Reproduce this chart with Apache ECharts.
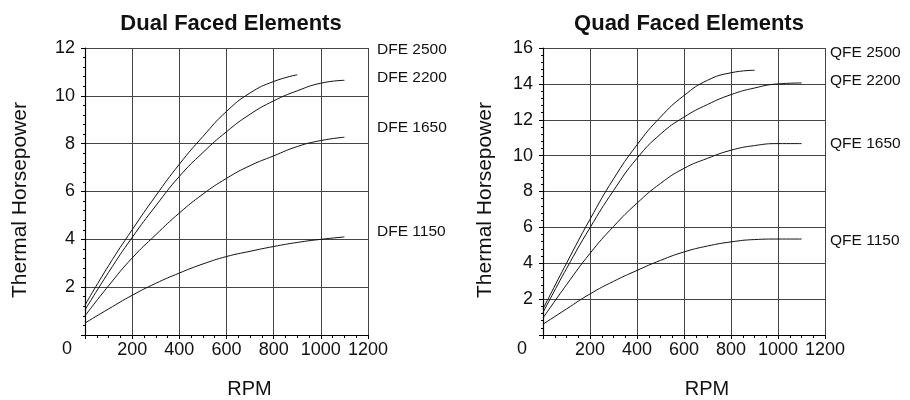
<!DOCTYPE html>
<html>
<head>
<meta charset="utf-8">
<script src="https://cdn.jsdelivr.net/npm/echarts@6/dist/echarts.min.js"></script>
<style>
html,body{margin:0;padding:0;background:#fff;}
#chart{width:910px;height:400px;}
</style>
</head>
<body>
<div id="chart"></div>
<script>
// ---- data ----
const rpm = [0, 100, 200, 300, 400, 500, 600, 700, 800, 900, 1000, 1100];
const xTicks = [0, 200, 400, 600, 800, 1000, 1200];

const dfeNames = ['DFE 2500', 'DFE 2200', 'DFE 1650', 'DFE 1150'];
const dfe2500 = [1.25, 2.9, 4.4, 5.82, 7.14, 8.3, 9.35, 10.12, 10.6, 10.88];
const dfe2200 = [1.05, 2.62, 4.08, 5.4, 6.63, 7.63, 8.5, 9.23, 9.79, 10.21, 10.53, 10.65];
const dfe1650 = [0.8, 2.06, 3.22, 4.19, 5.1, 5.89, 6.55, 7.08, 7.49, 7.88, 8.13, 8.27];
const dfe1150 = [0.5, 1.09, 1.66, 2.16, 2.59, 2.97, 3.28, 3.5, 3.7, 3.87, 4.0, 4.1];

const qfeNames = ['QFE 2500', 'QFE 2200', 'QFE 1650', 'QFE 1150'];
const qfe2500 = [1.45, 4.0, 6.45, 8.7, 10.6, 12.15, 13.35, 14.2, 14.62, 14.76];
const qfe2200 = [1.25, 3.7, 5.98, 8.05, 9.85, 11.2, 12.15, 12.85, 13.4, 13.77, 14.0, 14.05];
const qfe1650 = [0.95, 2.8, 4.55, 6.05, 7.35, 8.45, 9.29, 9.85, 10.3, 10.56, 10.67, 10.67];
const qfe1150 = [0.6, 1.45, 2.29, 2.99, 3.6, 4.16, 4.63, 4.96, 5.19, 5.32, 5.35, 5.35];

const dfeTicks = [0, 2, 4, 6, 8, 10, 12];
const qfeTicks = [0, 2, 4, 6, 8, 10, 12, 14, 16];

const titles = ['Dual Faced Elements', 'Quad Faced Elements'];
const yName = 'Thermal Horsepower';
const xName = 'RPM';

// ---- chart ----
const FONT = "'Liberation Sans', Arial, Helvetica, sans-serif";
const INK = '#111';
const chart = echarts.init(document.getElementById('chart'), null, {renderer: 'canvas'});

function pairs(vals) { return vals.map((v, i) => [rpm[i], v]); }

function xAxisCfg(gi) {
  return {
    gridIndex: gi, type: 'value',
    min: xTicks[0], max: xTicks[xTicks.length - 1], interval: xTicks[1] - xTicks[0],
    name: xName, nameLocation: 'middle', nameGap: 44,
    nameTextStyle: {fontFamily: FONT, fontSize: 20, color: INK, padding: [0, 0, 0, 46]},
    axisLine: {show: true, onZero: false, lineStyle: {color: '#000', width: 1.2}},
    axisTick: {show: true, inside: false, length: 4, lineStyle: {color: '#000'}},
    minorTick: {show: true, splitNumber: 4, length: 3, lineStyle: {color: '#000'}},
    axisLabel: {showMinLabel: false, margin: 6, fontFamily: FONT, fontSize: 18, color: INK,
      formatter: v => String(v)},
    splitLine: {show: true, lineStyle: {color: '#444', width: 1}}
  };
}
function yAxisCfg(gi, ticks, gap) {
  return {
    gridIndex: gi, type: 'value',
    min: ticks[0], max: ticks[ticks.length - 1], interval: ticks[1] - ticks[0],
    name: yName, nameLocation: 'middle', nameGap: gap, nameRotate: 90,
    nameTextStyle: {fontFamily: FONT, fontSize: 21, color: INK, padding: [0, 17, 0, 0]},
    axisLine: {show: true, onZero: false, lineStyle: {color: '#000', width: 1.2}},
    axisTick: {show: true, inside: false, length: 4, lineStyle: {color: '#000'}},
    minorTick: {show: true, splitNumber: 5, length: 2, lineStyle: {color: '#000'}},
    axisLabel: {showMinLabel: false, margin: 10, fontFamily: FONT, fontSize: 18, color: INK,
      formatter: v => String(v)},
    splitLine: {show: true, lineStyle: {color: '#444', width: 1}}
  };
}
function line(name, vals, xi) {
  return {
    name: name, type: 'line', xAxisIndex: xi, yAxisIndex: xi,
    data: pairs(vals), showSymbol: false, smooth: 0.5,
    lineStyle: {color: '#111', width: 1}, silent: true, animation: false
  };
}
function label(text, x, y) {
  return {type: 'text', x: x, y: y, silent: true,
    style: {text: text, font: '15.5px ' + FONT, fill: INK, align: 'left', verticalAlign: 'middle'}};
}
function zero(x, y) {
  return {type: 'text', x: x, y: y, silent: true,
    style: {text: '0', font: '18px ' + FONT, fill: INK, align: 'center', verticalAlign: 'middle'}};
}

chart.setOption({
  backgroundColor: '#fff',
  animation: false,
  title: [
    {text: titles[0], left: 226, top: 8, textAlign: 'center',
     textStyle: {fontFamily: FONT, fontSize: 22, fontWeight: 'bold', color: INK}},
    {text: titles[1], left: 684, top: 8, textAlign: 'center',
     textStyle: {fontFamily: FONT, fontSize: 22, fontWeight: 'bold', color: INK}}
  ],
  grid: [
    {left: 85, top: 48, width: 283, height: 287, containLabel: false, outerBoundsMode: 'none'},
    {left: 543, top: 48, width: 282, height: 287, containLabel: false, outerBoundsMode: 'none'}
  ],
  xAxis: [xAxisCfg(0), xAxisCfg(1)],
  yAxis: [yAxisCfg(0, dfeTicks, 54), yAxisCfg(1, qfeTicks, 47)],
  series: [
    line(dfeNames[0], dfe2500, 0),
    line(dfeNames[1], dfe2200, 0),
    line(dfeNames[2], dfe1650, 0),
    line(dfeNames[3], dfe1150, 0),
    line(qfeNames[0], qfe2500, 1),
    line(qfeNames[1], qfe2200, 1),
    line(qfeNames[2], qfe1650, 1),
    line(qfeNames[3], qfe1150, 1)
  ],
  graphic: [
    label(dfeNames[0], 377, 50),
    label(dfeNames[1], 377, 78),
    label(dfeNames[2], 377, 128),
    label(dfeNames[3], 377, 232),
    label(qfeNames[0], 830, 53),
    label(qfeNames[1], 830, 81),
    label(qfeNames[2], 830, 144),
    label(qfeNames[3], 830, 241),
    zero(67, 349),
    zero(522, 349)
  ]
});
</script>
</body>
</html>
